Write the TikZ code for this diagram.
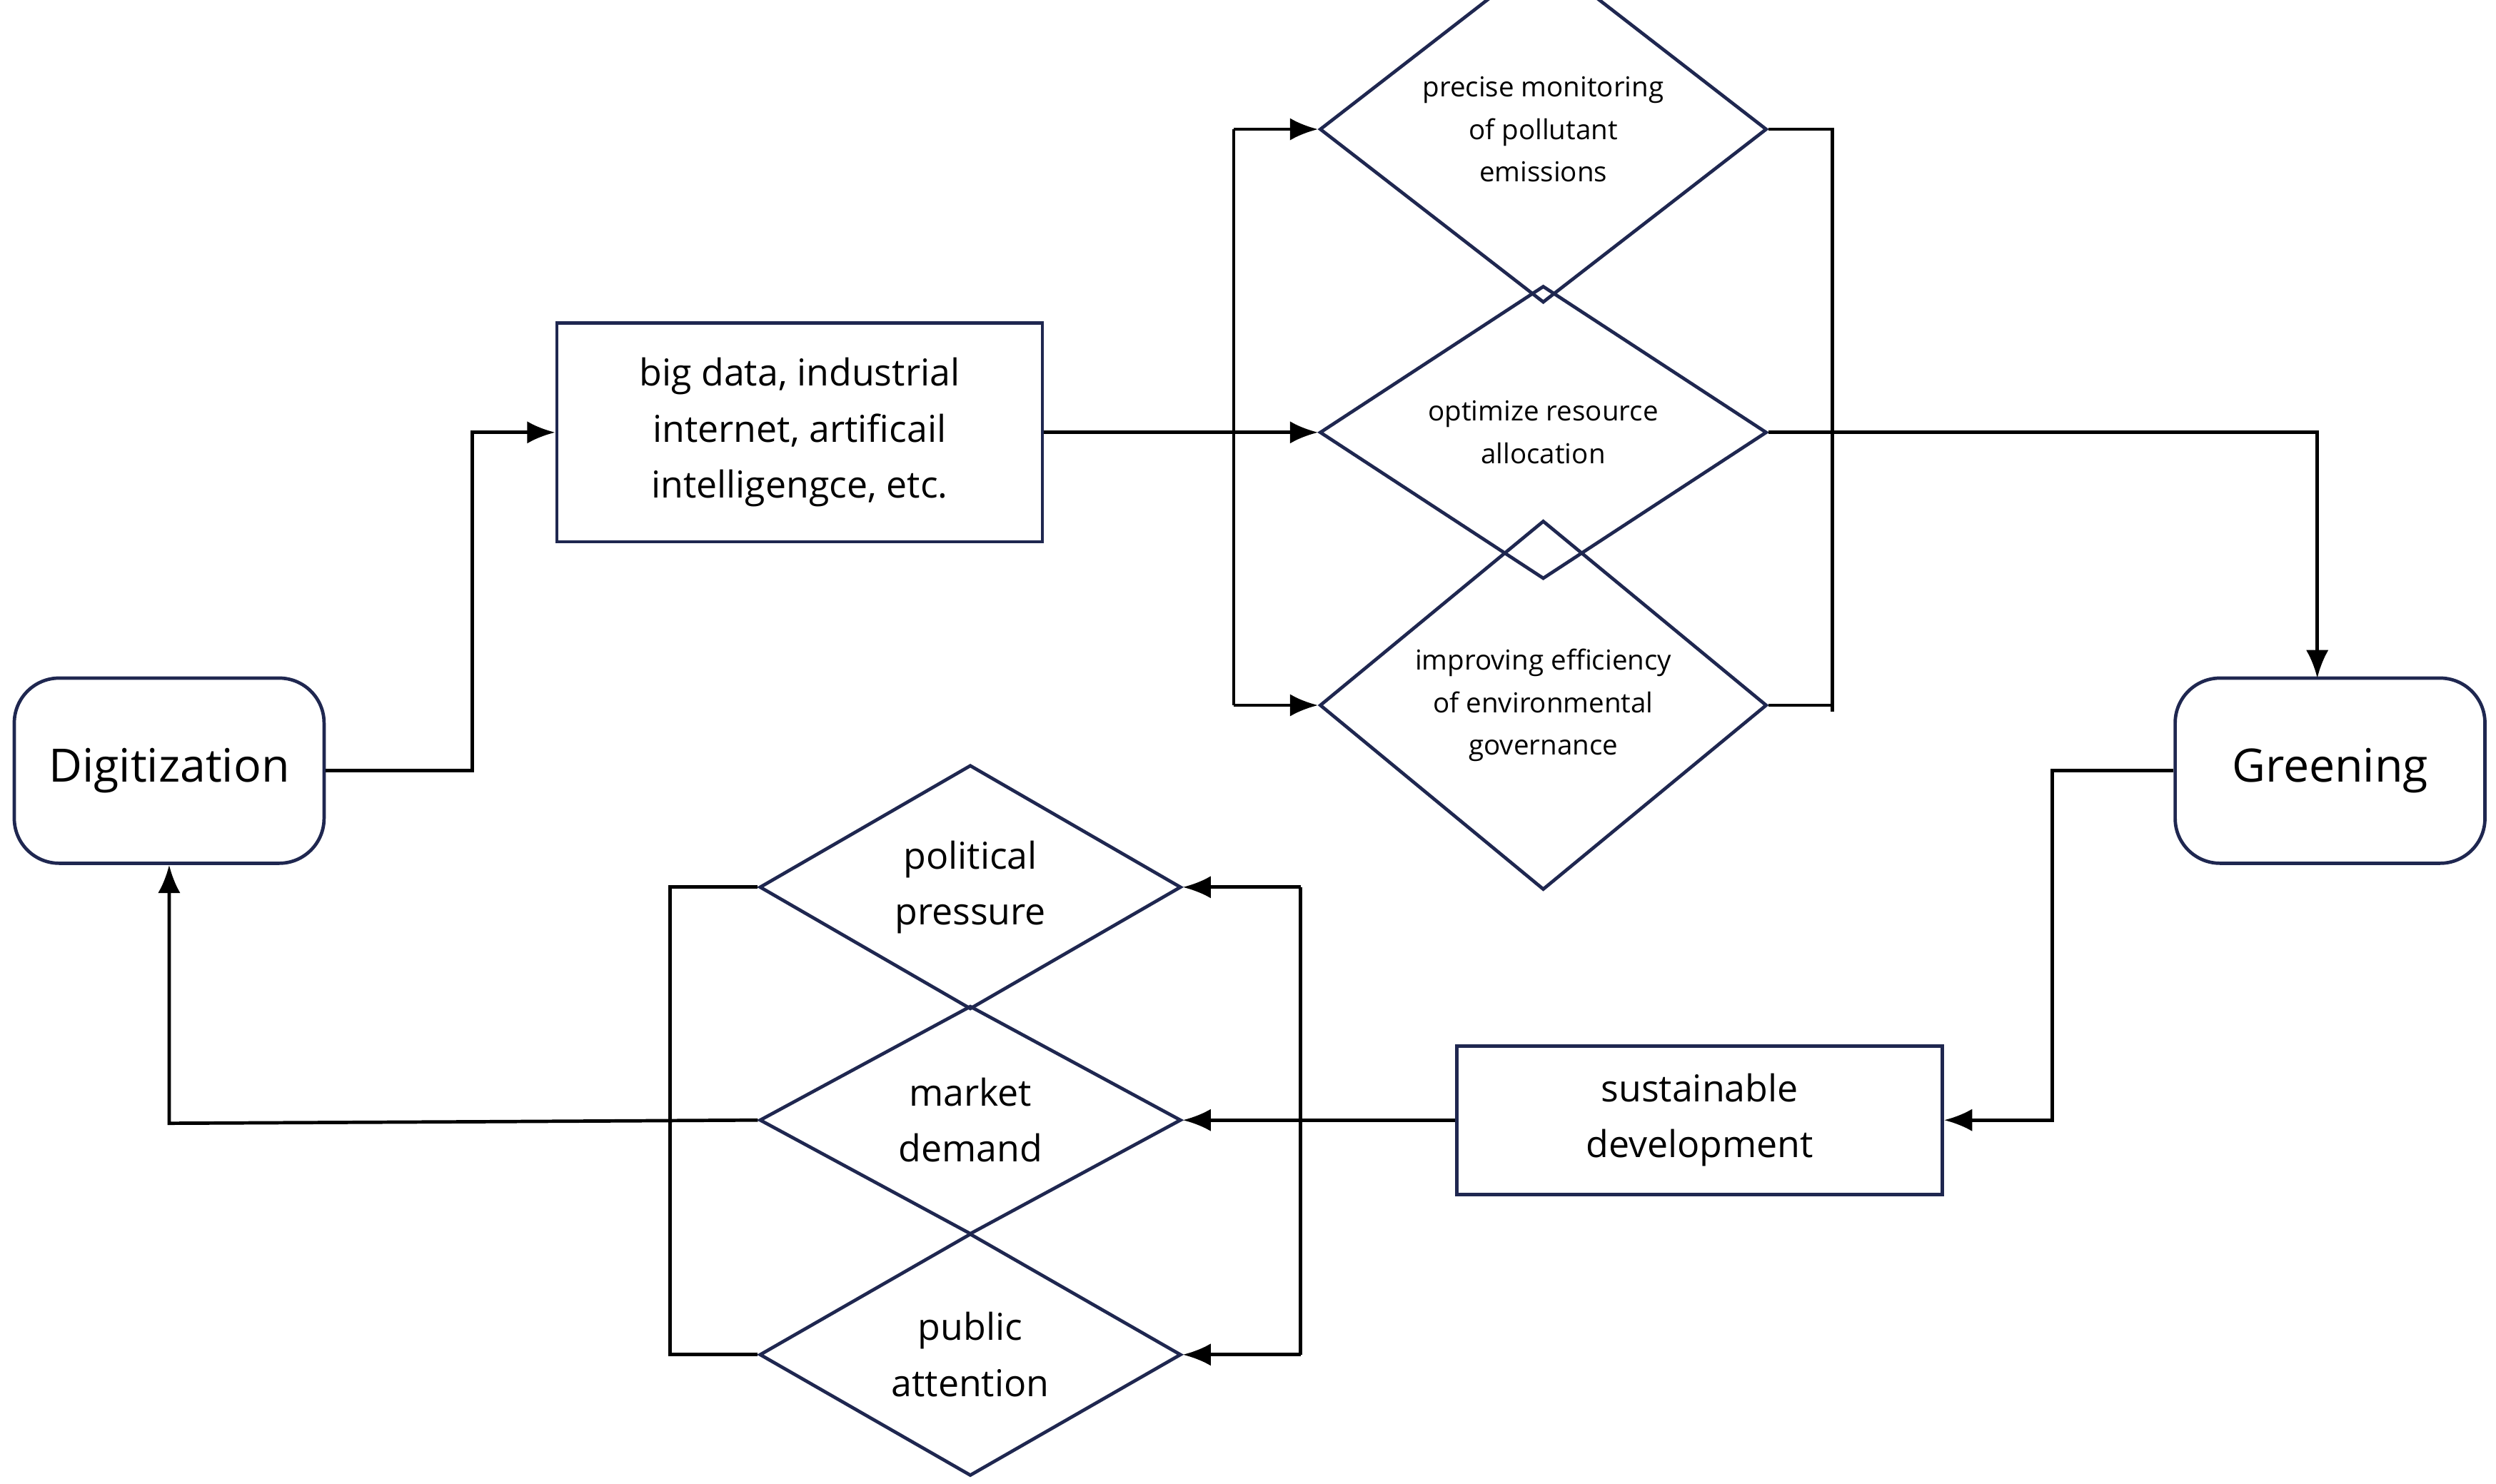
\documentclass[tikz,border=0pt]{standalone}
\usepackage{fontspec}
\setmainfont{Open Sans}
\usetikzlibrary{shapes.geometric,arrows.meta}
\definecolor{navy}{HTML}{1F2750}
\begin{document}
\begin{tikzpicture}[x=0.01cm,y=-0.01cm,
  box/.style={draw=navy,line width=0.6pt,inner sep=0pt,align=center},
  dia/.style={draw=navy,line width=0.6pt,diamond,inner sep=0pt,align=center},
  ln/.style={line width=0.6pt},
  arr/.style={ln,-{Latex[length=5pt,width=4pt]}},
  big/.style={font=\fontsize{8.2pt}{9pt}\selectfont},
  mid/.style={font=\fontsize{6.6pt}{10pt}\selectfont},
  sm/.style={font=\fontsize{4.9pt}{7.6pt}\selectfont}]
\useasboundingbox (0,0) rectangle (1564,930);
\node[box,rounded corners=8pt,minimum width=1.94cm,minimum height=1.16cm,big] (dig) at (106,483) {Digitization};
\node[box,rounded corners=8pt,minimum width=1.94cm,minimum height=1.16cm,big] (gre) at (1460,483) {Greening};
\node[box,minimum width=3.04cm,minimum height=1.37cm,mid] (bd) at (501,271) {big data, industrial\\internet, artificail\\intelligengce, etc.};
\node[box,minimum width=3.04cm,minimum height=0.93cm,mid] (sd) at (1065,702) {sustainable\\development};
\node[dia,minimum width=2.8cm,minimum height=1.46cm,sm] (d1) at (967,81) {precise monitoring\\of pollutant\\emissions};
\node[dia,minimum width=2.8cm,minimum height=1.56cm,sm] (d2) at (967,271) {optimize resource\\allocation};
\node[dia,minimum width=2.8cm,minimum height=1.56cm,sm] (d3) at (967,442) {improving efficiency\\of environmental\\governance};
\node[dia,minimum width=2.64cm,minimum height=1.39cm,mid] (d4) at (608,556) {political\\pressure};
\node[dia,minimum width=2.64cm,minimum height=1.39cm,mid] (d5) at (608,702) {market\\demand};
\node[dia,minimum width=2.64cm,minimum height=1.39cm,mid] (d6) at (608,849) {public\\attention};
\coordinate (a1) at (773,81); \coordinate (a3) at (773,442);
\coordinate (b1) at (1148,81); \coordinate (b3) at (1148,446);
\coordinate (c1) at (815,556); \coordinate (c3) at (815,849);
\coordinate (e1) at (420,556); \coordinate (e3) at (420,849);
\draw[arr] (dig.east) -- (296,483) -- (296,271) -- (bd.west);
\draw[arr] (bd.east) -- (d2.west);
\draw[ln] (a1) -- (a3);
\draw[arr] (a1) -- (d1.west);
\draw[arr] (a3) -- (d3.west);
\draw[ln] (d1.east) -- (b1) -- (b3);
\draw[ln] (d3.east) -- (1148,442);
\draw[arr] (d2.east) -- (1452,271) -- (1452,425);
\draw[arr] (gre.west) -- (1286,483) -- (1286,702) -- (sd.east);
\draw[arr] (sd.west) -- (d5.east);
\draw[ln] (c1) -- (c3);
\draw[arr] (c1) -- (d4.east);
\draw[arr] (c3) -- (d6.east);
\draw[ln] (d4.west) -- (e1) -- (e3) -- (d6.west);
\draw[arr] (d5.west) -- (300,703) -- (106,704) -- (dig.south);
\end{tikzpicture}
\end{document}
